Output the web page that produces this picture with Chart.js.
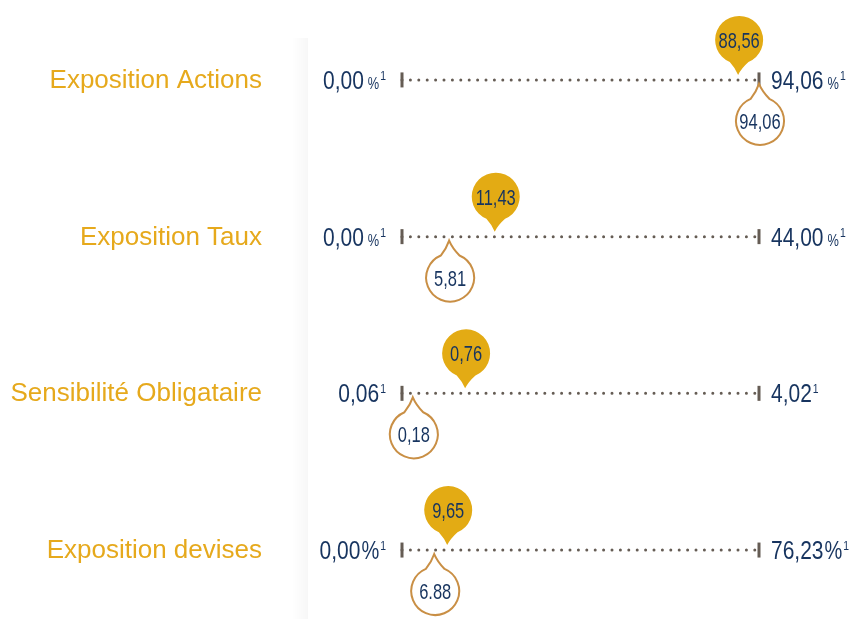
<!DOCTYPE html>
<html><head><meta charset="utf-8">
<script src="https://cdn.jsdelivr.net/npm/chart.js@4"></script>
<style>html,body{margin:0;padding:0;background:#fff}canvas{display:block}</style>
</head><body>
<canvas id="c" width="856" height="619"></canvas>
<script>
// ---- data ----
const categories = ['Exposition Actions', 'Exposition Taux', 'Sensibilité Obligataire', 'Exposition devises'];
const rangeMin = [0.00, 0.00, 0.06, 0.00];
const rangeMax = [94.06, 44.00, 4.02, 76.23];
const currentValues = [88.56, 11.43, 0.76, 9.65];
const otherValues = [94.06, 5.81, 0.18, 6.88];
const minLabels = ['0,00', '0,00', '0,06', '0,00'];
const maxLabels = ['94,06', '44,00', '4,02', '76,23'];
const currentLabels = ['88,56', '11,43', '0,76', '9,65'];
const otherLabels = ['94,06', '5,81', '0,18', '6.88'];
const units = ['%', '%', '', '%'];
const unitBig = [false, false, false, true];
const footnote = '1';

// ---- style ----
const NAVY = '#17345f', GOLD = '#e3ab14', LABEL_GOLD = '#e6a91c', TAN = '#c98f45', DOT = '#655c54';
const SANS = '"Liberation Sans",Arial,sans-serif';

const scales = { y: { type: 'linear', display: false, reverse: true, min: -0.51, max: 3.44 } };
const datasets = [];
categories.forEach((c, i) => {
  scales['x' + i] = { type: 'linear', axis: 'x', display: false, min: rangeMin[i], max: rangeMax[i] };
  datasets.push({ type: 'line', label: c, role: 'range', row: i, xAxisID: 'x' + i, yAxisID: 'y',
    data: [{ x: rangeMin[i], y: i }, { x: rangeMax[i], y: i }],
    borderColor: DOT, borderWidth: 3, borderDash: [0, 8.4], borderCapStyle: 'round', fill: false,
    pointRadius: 0, clip: 12 });
  datasets.push({ type: 'scatter', label: c + ' other', role: 'other', row: i, xAxisID: 'x' + i, yAxisID: 'y',
    data: [{ x: otherValues[i], y: i }], pointRadius: 0 });
  datasets.push({ type: 'scatter', label: c + ' current', role: 'current', row: i, xAxisID: 'x' + i, yAxisID: 'y',
    data: [{ x: currentValues[i], y: i }], pointRadius: 0 });
});

// condensed text: horizontal scale of a regular sans face
function measureC(ctx, text, size, sx) {
  ctx.font = size + 'px ' + SANS;
  return ctx.measureText(text).width * sx;
}
function fillC(ctx, text, x, y, size, sx, color) {
  ctx.save();
  ctx.font = size + 'px ' + SANS;
  ctx.fillStyle = color;
  ctx.textAlign = 'left';
  ctx.translate(x, y);
  ctx.scale(sx, 1);
  ctx.fillText(text, 0, 0);
  ctx.restore();
}
function drawParts(ctx, parts, x, baseY, align) {
  let total = 0;
  parts.forEach(p => { p.w = measureC(ctx, p.text, p.size, p.sx); total += p.w + (p.gap || 0); });
  let cx = align === 'right' ? x - total : x;
  parts.forEach(p => {
    cx += (p.gap || 0);
    ctx.textBaseline = 'alphabetic';
    fillC(ctx, p.text, cx, baseY - (p.dy || 0), p.size, p.sx, NAVY);
    cx += p.w;
  });
}
function valueParts(num, i) {
  const parts = [{ text: num, size: 25, sx: 0.84 }];
  if (units[i]) parts.push(unitBig[i] ? { text: units[i], size: 25, sx: 0.8, gap: 1 } : { text: units[i], size: 16, sx: 0.8, gap: 4 });
  parts.push({ text: footnote, size: 13, sx: 0.8, dy: 9, gap: 1 });
  return parts;
}
function bubble(ctx, x, y, dir, text) {
  const r = 24, th = 0.4;
  let cx = x + 1, cy, tipY, a1, a2;
  ctx.save();
  ctx.beginPath();
  if (dir === 'down') {
    cy = y - 40; tipY = y - 5;
    a1 = Math.PI / 2 + th; a2 = Math.PI / 2 - th + 2 * Math.PI;
  } else {
    cy = y + 41; tipY = y + 4;
    a1 = -Math.PI / 2 + th; a2 = -Math.PI / 2 - th + 2 * Math.PI;
  }
  const p1x = cx + r * Math.cos(a1), p1y = cy + r * Math.sin(a1);
  const p2x = cx + r * Math.cos(a2), p2y = cy + r * Math.sin(a2);
  ctx.moveTo(p1x, p1y);
  ctx.arc(cx, cy, r, a1, a2, false);
  const midY = (p2y + tipY) / 2;
  ctx.quadraticCurveTo(x + (p2x - x) * 0.3, midY, x, tipY);
  ctx.quadraticCurveTo(x + (p1x - x) * 0.3, midY, p1x, p1y);
  ctx.closePath();
  if (dir === 'down') { ctx.fillStyle = GOLD; ctx.fill(); }
  else { ctx.fillStyle = '#fff'; ctx.fill(); ctx.strokeStyle = TAN; ctx.lineWidth = 2; ctx.stroke(); }
  ctx.textBaseline = 'alphabetic';
  const w = measureC(ctx, text, 22, 0.75);
  fillC(ctx, text, cx - w / 2, cy + 8, 22, 0.75, NAVY);
  ctx.restore();
}

const decor = {
  id: 'decor',
  beforeDraw(chart) {
    const ctx = chart.ctx;
    ctx.save();
    const g = ctx.createLinearGradient(292, 0, 308, 0);
    g.addColorStop(0, 'rgba(0,0,0,0)');
    g.addColorStop(1, 'rgba(0,0,0,0.03)');
    ctx.fillStyle = g;
    ctx.fillRect(292, 38, 16, 581);
    ctx.restore();
  },
  afterDatasetsDraw(chart) {
    const ctx = chart.ctx;
    ctx.save();
    chart.data.datasets.forEach((ds, di) => {
      const meta = chart.getDatasetMeta(di);
      const i = ds.row;
      if (ds.role === 'range') {
        const a = meta.data[0], b = meta.data[1];
        ctx.fillStyle = DOT;
        ctx.fillRect(a.x - 1.5, a.y - 7.5, 3, 15);
        ctx.fillRect(b.x - 1.5, b.y - 7.5, 3, 15);
        ctx.font = '26px ' + SANS; ctx.fillStyle = LABEL_GOLD; ctx.textAlign = 'right'; ctx.textBaseline = 'alphabetic';
        ctx.fillText(categories[i], 262, a.y + 8);
        drawParts(ctx, valueParts(minLabels[i], i), a.x - 16, a.y + 9, 'right');
        drawParts(ctx, valueParts(maxLabels[i], i), b.x + 12, b.y + 9, 'left');
      }
    });
    chart.data.datasets.forEach((ds, di) => {
      const el = chart.getDatasetMeta(di).data[0];
      if (ds.role === 'other') bubble(ctx, el.x, el.y, 'up', otherLabels[ds.row]);
      if (ds.role === 'current') bubble(ctx, el.x, el.y, 'down', currentLabels[ds.row]);
    });
    ctx.restore();
  }
};

new Chart(document.getElementById('c'), {
  type: 'scatter',
  data: { datasets },
  options: {
    responsive: false, animation: false, events: [],
    layout: { autoPadding: false, padding: { left: 402, right: 97, top: 0, bottom: 0 } },
    scales,
    plugins: { legend: { display: false }, tooltip: { enabled: false } }
  },
  plugins: [decor]
});
</script>
</body></html>
